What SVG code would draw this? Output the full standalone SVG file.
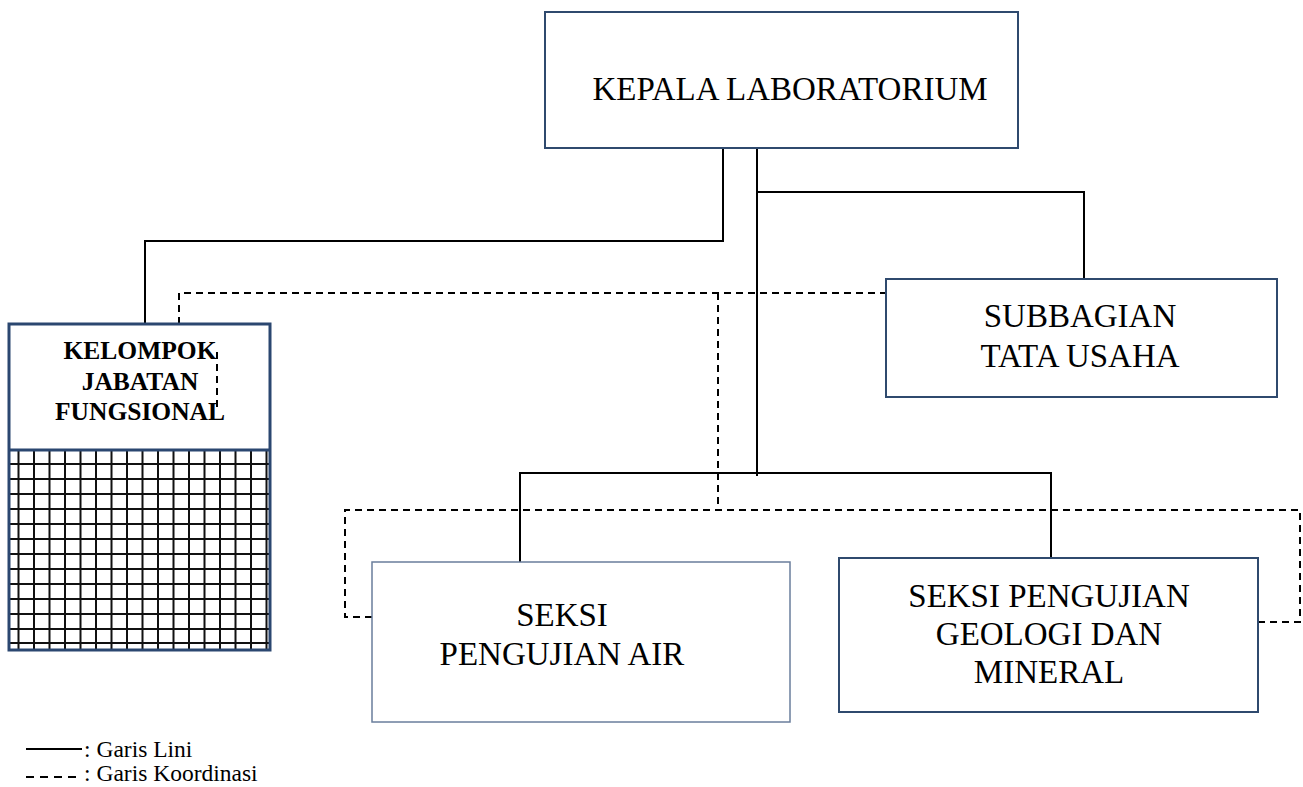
<svg xmlns="http://www.w3.org/2000/svg" width="1303" height="787" viewBox="0 0 1303 787">
<style>
.box{fill:#fff;stroke:#2f4a6e;stroke-width:2}
.boxl{fill:#fff;stroke:#6a7e9c;stroke-width:1.5}
.t{font-family:"Liberation Serif","Times New Roman",serif;font-size:33px;fill:#000;text-anchor:middle}
.tb{font-family:"Liberation Serif","Times New Roman",serif;font-size:25.5px;font-weight:bold;fill:#000;text-anchor:middle}
.lg{font-family:"Liberation Serif","Times New Roman",serif;font-size:23.5px;fill:#000}
.solid{fill:none;stroke:#000;stroke-width:2}
.dash{fill:none;stroke:#000;stroke-width:2;stroke-dasharray:7 5}
.grid{fill:none;stroke:#111;stroke-width:2}
</style>
<rect width="1303" height="787" fill="#fff"/>
<g id="connectors">
  <path class="solid" d="M723 148 V241 H145 V324"/>
  <path class="solid" d="M757 148 V476"/>
  <path class="solid" d="M757 192 H1084 V279"/>
  <path class="solid" d="M520 562 V473 H1051 V558"/>
  <path class="dash" d="M179 324 V293 H886"/>
  <path class="dash" d="M718 293 V511"/>
  <path class="dash" d="M372 617 H345 V510 H1300 V622 H1258"/>
</g>
<g id="kepala-laboratorium">
  <rect class="box" x="545" y="12" width="473" height="136"/>
  <text class="t" x="790" y="100">KEPALA LABORATORIUM</text>
</g>
<g id="subbagian-tata-usaha">
  <rect class="box" x="886" y="279" width="391" height="118"/>
  <text class="t" x="1080" y="327">SUBBAGIAN</text>
  <text class="t" x="1080" y="367">TATA USAHA</text>
</g>
<g id="kelompok-jabatan-fungsional">
  <rect x="9" y="324" width="261" height="326" fill="#fff"/>
  <path class="grid" d="M18.5 451V650M34 451V650M49.5 451V650M65 451V650M80.5 451V650M96 451V650M111.5 451V650M127 451V650M142.5 451V650M158 451V650M173.5 451V650M189 451V650M204.5 451V650M220 451V650M235.5 451V650M251 451V650M266.5 451V650M9 464H270M9 479H270M9 494H270M9 509H270M9 524H270M9 539H270M9 554H270M9 569H270M9 584H270M9 599H270M9 614H270M9 629H270M9 643H270"/>
  <rect x="9" y="324" width="261" height="326" fill="none" stroke="#2b4770" stroke-width="3"/>
  <line x1="9" y1="450" x2="270" y2="450" stroke="#2b4770" stroke-width="3"/>
  <text class="tb" x="140" y="359">KELOMPOK</text>
  <text class="tb" x="140" y="390">JABATAN</text>
  <text class="tb" x="140" y="420">FUNGSIONAL</text>
  <path class="dash" d="M217 352 V410"/>
</g>
<g id="seksi-pengujian-air">
  <rect class="boxl" x="372" y="562" width="418" height="160"/>
  <text class="t" x="562" y="626">SEKSI</text>
  <text class="t" x="562" y="665">PENGUJIAN AIR</text>
</g>
<g id="seksi-pengujian-geologi-dan-mineral">
  <rect class="box" x="839" y="558" width="419" height="154"/>
  <text class="t" x="1049" y="607">SEKSI PENGUJIAN</text>
  <text class="t" x="1049" y="645">GEOLOGI DAN</text>
  <text class="t" x="1049" y="683">MINERAL</text>
</g>
<g id="legend">
  <line class="solid" x1="26" y1="749" x2="82" y2="749"/>
  <line class="dash" x1="26" y1="777" x2="82" y2="777" style="stroke-dasharray:8 6"/>
  <text class="lg" x="84" y="757">: Garis Lini</text>
  <text class="lg" x="84" y="781">: Garis Koordinasi</text>
</g>
</svg>
